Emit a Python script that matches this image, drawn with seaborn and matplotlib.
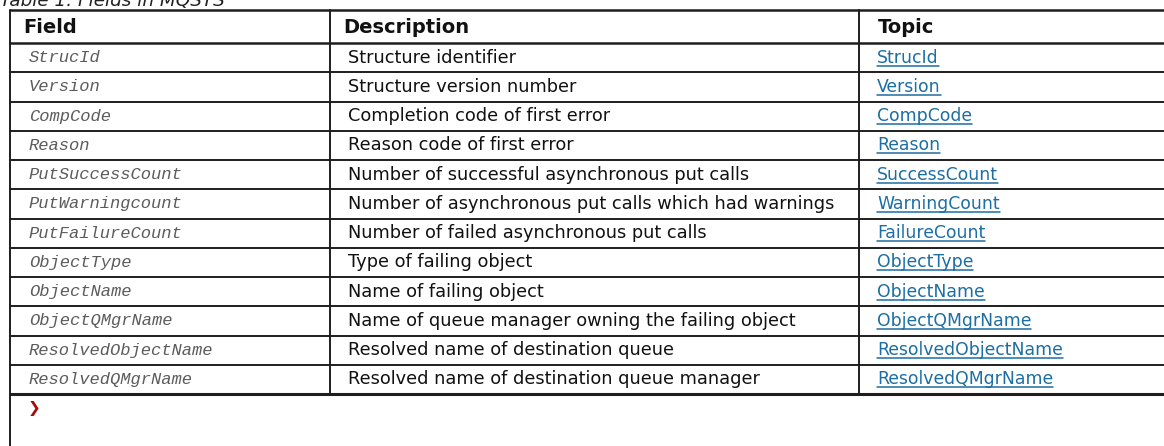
"""Tableau des champs MQSTS redessiné avec matplotlib/seaborn."""

import matplotlib.pyplot as plt
import seaborn as sns

CAPTION = "Table 1. Fields in MQSTS"
HEADERS = ["Field", "Description", "Topic"]
FIELDS = [
    "StrucId", "Version", "CompCode", "Reason", "PutSuccessCount",
    "PutWarningcount", "PutFailureCount", "ObjectType", "ObjectName",
    "ObjectQMgrName", "ResolvedObjectName", "ResolvedQMgrName",
]
DESCRIPTIONS = [
    "Structure identifier",
    "Structure version number",
    "Completion code of first error",
    "Reason code of first error",
    "Number of successful asynchronous put calls",
    "Number of asynchronous put calls which had warnings",
    "Number of failed asynchronous put calls",
    "Type of failing object",
    "Name of failing object",
    "Name of queue manager owning the failing object",
    "Resolved name of destination queue",
    "Resolved name of destination queue manager",
]
TOPICS = [
    "StrucId", "Version", "CompCode", "Reason", "SuccessCount",
    "WarningCount", "FailureCount", "ObjectType", "ObjectName",
    "ObjectQMgrName", "ResolvedObjectName", "ResolvedQMgrName",
]

sns.set_theme(style="white")
plt.rcParams["font.family"] = ["DejaVu Sans"]

W, H = 1164, 446
fig = plt.figure(figsize=(W / 100, H / 100), dpi=100)
ax = fig.add_axes([0, 0, 1, 1])
ax.set_xlim(0, W)
ax.set_ylim(H, 0)
ax.axis("off")

LINE = "#1e1e1e"
col_x = [10, 330, 859]
text_x = [29, 348, 877]
head_x = [23, 343, 878]
top, head_bot = 10, 43
row_h = (394 - head_bot) / len(FIELDS)
bottom = head_bot + row_h * len(FIELDS)

# légende au-dessus du tableau (coupée en haut, comme sur l'original)
ax.text(0, 6.5, CAPTION, fontsize=13.2, style="italic", color="#222",
        va="baseline", ha="left")

# lignes horizontales
ax.plot([col_x[0], W], [top, top], color=LINE, lw=1.8)
ax.plot([col_x[0], W], [head_bot, head_bot], color=LINE, lw=1.8)
for i in range(1, len(FIELDS)):
    y = head_bot + i * row_h
    ax.plot([col_x[0], W], [y, y], color=LINE, lw=1.4)
ax.plot([col_x[0], W], [bottom, bottom], color=LINE, lw=2.2)

# lignes verticales
ax.plot([col_x[0], col_x[0]], [top, H], color=LINE, lw=1.4)
for x in col_x[1:]:
    ax.plot([x, x], [top, bottom], color=LINE, lw=1.4)

for hx, h in zip(head_x, HEADERS):
    ax.text(hx, (top + head_bot) / 2 + 1, h, fontsize=14, fontweight="bold",
            color="#111", va="center", ha="left")

links = []
for i, (f, d, t) in enumerate(zip(FIELDS, DESCRIPTIONS, TOPICS)):
    yc = head_bot + (i + 0.5) * row_h
    ax.text(text_x[0], yc, f, fontsize=12.3, style="italic",
            family=["Liberation Mono", "DejaVu Sans Mono"], color="#5c5c5c",
            va="center", ha="left")
    ax.text(text_x[1], yc, d, fontsize=12.75, color="#111",
            va="center", ha="left")
    links.append(ax.text(text_x[2], yc, t, fontsize=12.4, color="#1c6ea4",
                         va="center", ha="left"))

# soulignement des liens
fig.canvas.draw()
inv = ax.transData.inverted()
for lk in links:
    bb = lk.get_window_extent()
    (x0, _), (x1, _) = inv.transform([[bb.x0, bb.y0], [bb.x1, bb.y1]])
    yb = lk.get_position()[1] + 8
    ax.plot([x0, x1], [yb, yb], color="#1c6ea4", lw=1.1)

# chevron rouge sous le tableau
ax.text(28, 409, "\u276f", fontsize=11, color="#a50d0d", fontweight="bold",
        va="center", ha="left")

fig.savefig("out.png", dpi=100)
plt.close(fig)
